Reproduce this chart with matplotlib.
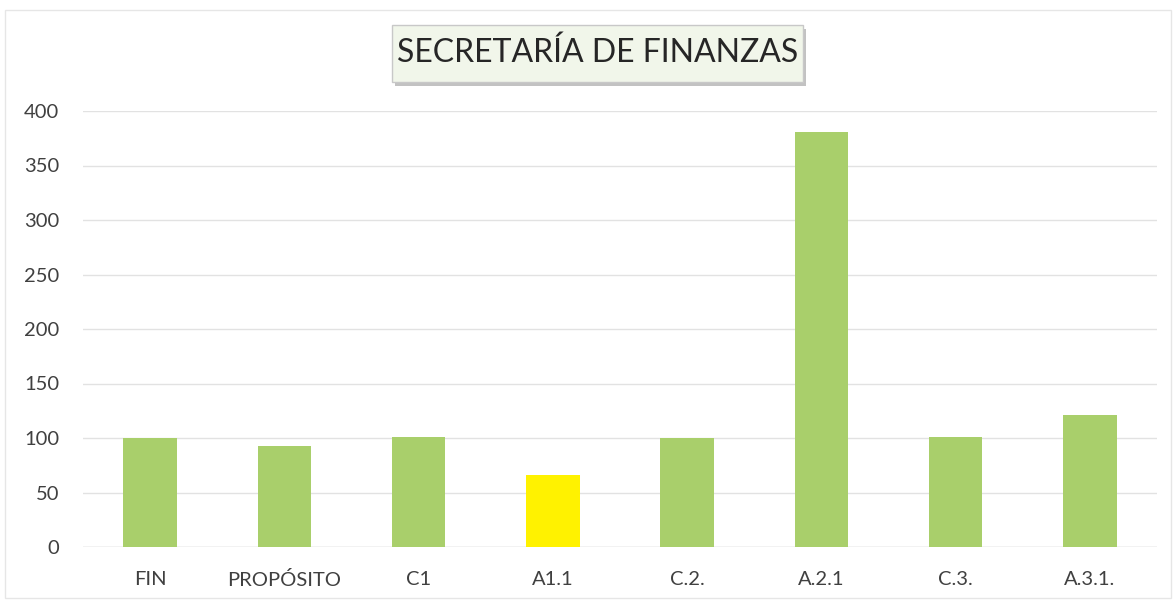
import matplotlib
matplotlib.use("Agg")
import matplotlib.pyplot as plt

categories = ["FIN", "PROPÓSITO", "C1", "A1.1", "C.2.", "A.2.1", "C.3.", "A.3.1."]
values = [100, 93, 101, 66, 100, 381, 101, 121]
bar_colors = ["#a9cf6b", "#a9cf6b", "#a9cf6b", "#fff200", "#a9cf6b", "#a9cf6b", "#a9cf6b", "#a9cf6b"]
yticks = [0, 50, 100, 150, 200, 250, 300, 350, 400]
title = "SECRETARÍA DE FINANZAS"

plt.rcParams['font.family'] = ['Lato', 'DejaVu Sans']

W, H = 1176, 605
fig = plt.figure(figsize=(W / 100, H / 100), dpi=100)
fig.patch.set_facecolor("white")

left, right = 83, 1157
bottom, top = 547, 111
ax = fig.add_axes([left / W, 1 - bottom / H, (right - left) / W, (bottom - top) / H])
x = list(range(len(categories)))
ax.bar(x, values, width=0.4, color=bar_colors, zorder=3)
ax.set_xlim(-0.5, len(categories) - 0.5)
ax.set_ylim(0, 400)
ax.set_yticks(yticks)
ax.set_yticklabels([str(v) for v in yticks], fontsize=14.5, color="#404040")
ax.set_xticks(x)
ax.set_xticklabels(categories, fontsize=14.5, color="#404040")
ax.tick_params(axis="both", length=0)
ax.tick_params(axis="y", pad=17)
ax.tick_params(axis="x", pad=17)
ax.grid(axis="y", color="#e2e2e2", linewidth=1, zorder=0)
for s in ax.spines.values():
    s.set_visible(False)
ax.axhline(0, color="#d9d9d9", linewidth=1, zorder=2)

# outer chart border
fig.add_artist(plt.Rectangle((5 / W, 1 - 598 / H), 1166 / W, 588 / H, transform=fig.transFigure,
                             fill=False, edgecolor="#e6e6e6", linewidth=1))

# title box with shadow
bx0, by0, bx1, by1 = 392, 25, 803, 82
fig.add_artist(plt.Rectangle(((bx0 + 3) / W, 1 - (by1 + 4) / H), (bx1 - bx0) / W, (by1 - by0) / H,
                             transform=fig.transFigure, facecolor="#9a9a9a", edgecolor="none", alpha=0.6))
fig.add_artist(plt.Rectangle((bx0 / W, 1 - by1 / H), (bx1 - bx0) / W, (by1 - by0) / H,
                             transform=fig.transFigure, facecolor="#f1f6ea", edgecolor="#c8c8c8", linewidth=1))
fig.text((bx0 + bx1) / 2 / W, 1 - 53 / H, title, ha="center", va="center", fontsize=23, color="#262626")

fig.savefig("out.png", dpi=100)
